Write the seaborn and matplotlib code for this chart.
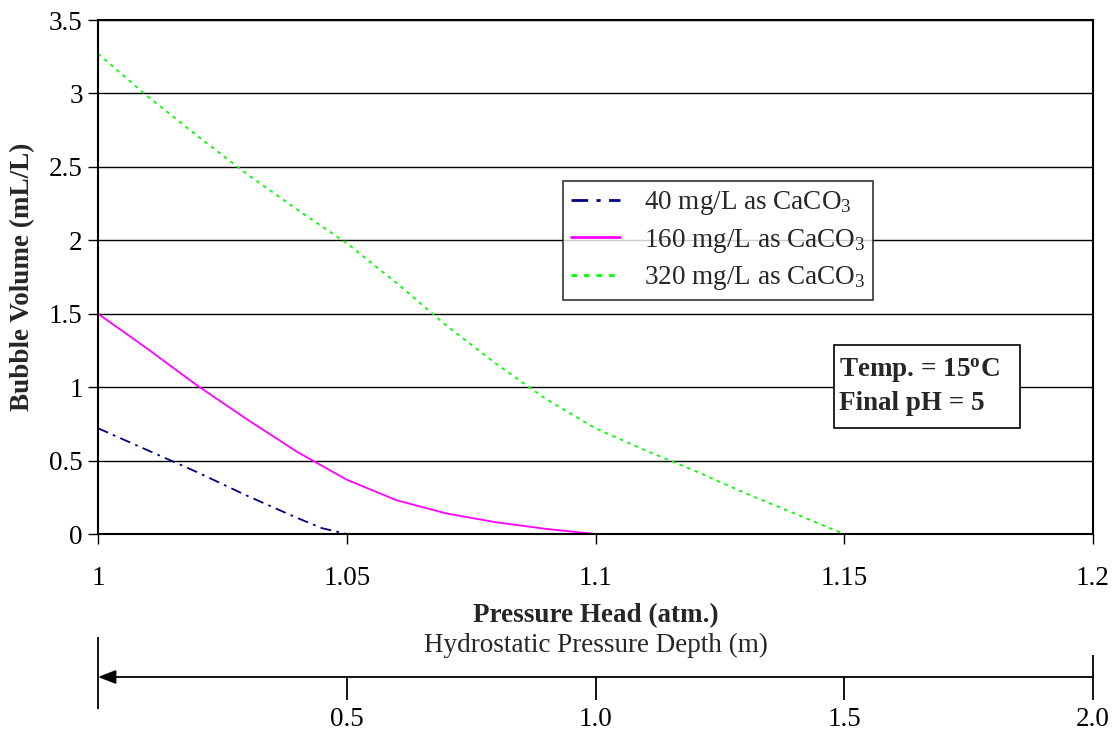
import pandas as pd
import matplotlib
matplotlib.use("Agg")
import matplotlib.pyplot as plt
import seaborn as sns

# Datos
pressure_40 = [1.00, 1.01, 1.02, 1.03, 1.04, 1.045, 1.05, 1.10]
volume_40 = [0.72, 0.57, 0.42, 0.26, 0.11, 0.04, 0.0, 0.0]

pressure_160 = [1.00, 1.01, 1.02, 1.03, 1.04, 1.05, 1.06, 1.07, 1.08, 1.09, 1.10, 1.15]
volume_160 = [1.50, 1.26, 1.01, 0.78, 0.56, 0.37, 0.23, 0.14, 0.08, 0.035, 0.0, 0.0]

pressure_320 = [1.00, 1.01, 1.02, 1.03, 1.04, 1.05, 1.06, 1.07, 1.08,
                1.09, 1.10, 1.11, 1.12, 1.13, 1.14, 1.15]
volume_320 = [3.27, 2.98, 2.71, 2.45, 2.21, 1.98, 1.71, 1.42, 1.16,
              0.92, 0.72, 0.57, 0.43, 0.28, 0.14, 0.0]

series_names = ["40 mg/L as CaCO$_3$", "160 mg/L as CaCO$_3$", "320 mg/L as CaCO$_3$"]
series_colors = ["#000080", "#FF00FF", "#00FF00"]

x_ticks = [1, 1.05, 1.1, 1.15, 1.2]
x_tick_labels = ["1", "1.05", "1.1", "1.15", "1.2"]
y_ticks = [0, 0.5, 1, 1.5, 2, 2.5, 3, 3.5]
y_tick_labels = ["0", "0.5", "1", "1.5", "2", "2.5", "3", "3.5"]

depth_ticks = [0.5, 1.0, 1.5, 2.0]
depth_tick_labels = ["0.5", "1.0", "1.5", "2.0"]

df = pd.concat([
    pd.DataFrame({"P": pressure_40, "V": volume_40, "Serie": series_names[0]}),
    pd.DataFrame({"P": pressure_160, "V": volume_160, "Serie": series_names[1]}),
    pd.DataFrame({"P": pressure_320, "V": volume_320, "Serie": series_names[2]}),
])

FS = 19.5

sns.set_theme(style="white")
plt.rcParams['font.family'] = ['Liberation Serif', 'DejaVu Serif']
plt.rcParams['mathtext.fontset'] = 'custom'
plt.rcParams['mathtext.rm'] = 'Liberation Serif'
plt.rcParams['mathtext.bf'] = 'Liberation Serif:bold'
plt.rcParams['mathtext.it'] = 'Liberation Serif:italic'

fig = plt.figure(figsize=(11.17, 7.32), dpi=100)
ax = fig.add_axes([98 / 1117, 198 / 732, 995 / 1117, 514 / 732])

sns.lineplot(data=df, x="P", y="V", hue="Serie", style="Serie",
             palette=dict(zip(series_names, series_colors)),
             dashes={series_names[0]: (6, 3, 1.5, 3),
                     series_names[1]: "",
                     series_names[2]: (2, 2.5)},
             linewidth=1.3, sort=False, estimator=None, ax=ax, zorder=2)

ax.set_xlim(1, 1.2)
ax.set_ylim(0, 3.5)
ax.set_xticks(x_ticks, x_tick_labels)
ax.set_yticks(y_ticks, y_tick_labels)
ax.tick_params(axis="both", direction="out", length=7, width=1, colors="black",
               labelsize=FS, bottom=True, left=True)
ax.tick_params(axis="x", pad=16)
ax.tick_params(axis="y", pad=4)
ax.grid(axis="y", color="black", linewidth=1)
ax.grid(axis="x", visible=False)
for sp in ax.spines.values():
    sp.set_color("black")
    sp.set_linewidth(1.5)
    sp.set_zorder(3)

ax.set_xlabel("Pressure Head (atm.)", fontsize=FS, fontweight="bold", labelpad=9)
ax.set_ylabel("Bubble Volume (mL/L)", fontsize=FS, fontweight="bold", labelpad=10)

leg = ax.legend(loc="upper left", bbox_to_anchor=(0.467, 0.6868), fontsize=FS,
                frameon=True, fancybox=False, edgecolor="black", handlelength=1.8,
                handletextpad=0.9, borderpad=0.3, labelspacing=0.35, borderaxespad=0)
leg.get_frame().set_linewidth(1.2)
for line in leg.get_lines():
    line.set_linewidth(2)

# Cuadro de condiciones
ax.add_patch(plt.Rectangle((0.7397, 0.2062), 0.1869, 0.1615, transform=ax.transAxes,
                           facecolor="white", edgecolor="black", linewidth=1.2, zorder=4))
ax.text(0.7447, 0.3054, "Temp. = 15$^{\\mathbf{o}}$C", transform=ax.transAxes,
        fontsize=FS, fontweight="bold", ha="left", va="baseline", zorder=5)
ax.text(0.7447, 0.2412, "Final pH = 5", transform=ax.transAxes,
        fontsize=FS, fontweight="bold", ha="left", va="baseline", zorder=5)

# Escala secundaria: profundidad hidrostatica
ax2 = fig.add_axes([98 / 1117, 32 / 732, 995 / 1117, 63 / 732])
ax2.set_xlim(0, 2.0)
ax2.set_ylim(0, 63)
for sp in ax2.spines.values():
    sp.set_visible(False)
ax2.set_yticks([])
ax2.set_xticks(depth_ticks, depth_tick_labels)
ax2.tick_params(axis="x", length=0, pad=5, labelsize=FS, colors="black")
ax2.set_facecolor("none")

ax2.annotate("", xy=(0, 23), xytext=(2.0, 23),
             arrowprops=dict(arrowstyle="-|>,head_length=0.9,head_width=0.35",
                             color="black", linewidth=1.3, shrinkA=0, shrinkB=0))
ax2.vlines(0, -9, 63, color="black", linewidth=1.3, clip_on=False)
ax2.vlines(2.0, 0, 45, color="black", linewidth=1.3, clip_on=False)
ax2.vlines(depth_ticks[:-1], 0, 23, color="black", linewidth=1.3, clip_on=False)
ax2.text(1.0, 55, "Hydrostatic Pressure Depth (m)", ha="center", va="center", fontsize=FS)

fig.savefig("out.png", dpi=100, facecolor="white")
